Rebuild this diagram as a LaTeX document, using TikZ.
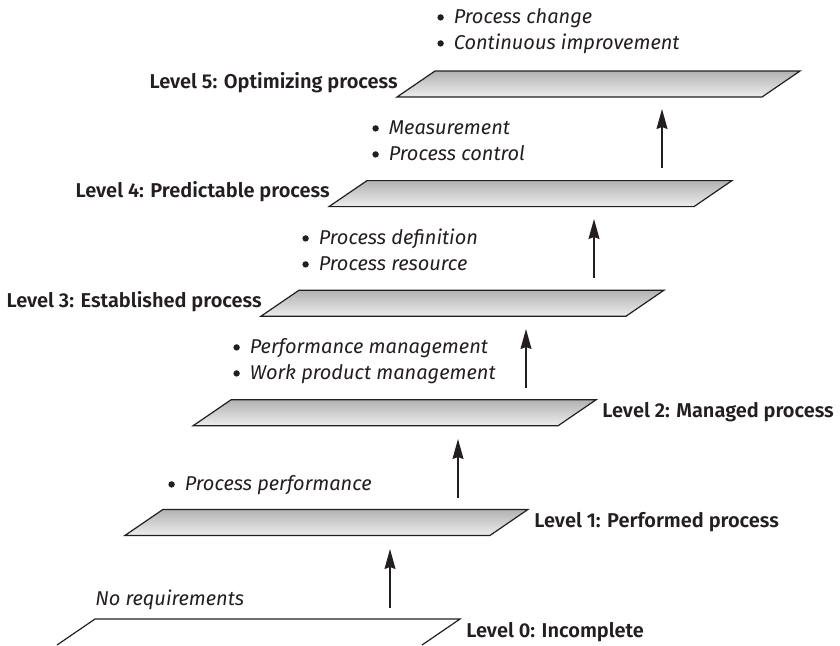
\documentclass[tikz,border=0pt]{standalone}
\usepackage{fontspec}
\setmainfont{Fira Sans}[BoldFont={Fira Sans SemiBold}]
\usepackage{tikz}
\usetikzlibrary{arrows.meta}
\definecolor{plateTop}{HTML}{B2B2B2}
\definecolor{plateBottom}{HTML}{EDEDED}
\definecolor{inkDark}{HTML}{231F20}

\newcommand{\kpadot}{\tikz[baseline=-2.8pt]\fill[inkDark] (0,0) circle (1.6pt);\enspace}

\tikzset{
  plate/.style={draw=inkDark, line width=0.6pt, line join=miter, top color=plateTop, bottom color=plateBottom},
  levelup/.style={draw=inkDark, line width=0.65pt, -{Stealth[length=10pt, width=5.5pt, inset=1pt]}},
  levelname/.style={font=\fontsize{10}{12}\selectfont\bfseries, text=inkDark, inner sep=0pt},
  practice/.style={font=\fontsize{10}{13}\selectfont\itshape, text=inkDark, inner sep=0pt, anchor=base west, align=left}
}

\begin{document}
\begin{tikzpicture}[x=0.5pt, y=-0.5pt]
      \useasboundingbox (0,0) rectangle (840,645);

      % Level 0 (cut off by the page)
      \draw[draw=inkDark, line width=0.6pt] (57,645) -- (95,619) coordinate (tl0) -- (460,619) coordinate (tr0) -- (422,645);

      % Plates, levels 1 to 5
      \foreach \k in {1,...,5} {
            \pgfmathsetmacro{\px}{95+68*\k}
            \pgfmathsetmacro{\py}{619-109.6*\k}
            \draw[plate] (\px,\py) coordinate (tl\k) -- ++(365,0) coordinate (tr\k)
                  -- ++(-38,26) coordinate (br\k) -- ++(-365,0) coordinate (bl\k) -- cycle;
      }

      % Arrows between levels
      \foreach \k in {0,...,4} {
            \pgfmathsetmacro{\ax}{390+68*\k}
            \coordinate (from\k) at (\ax,{608-110*\k});
            \coordinate (to\k) at (\ax,{549-110*\k});
            \draw[levelup] (from\k) -- (to\k);
      }

      % Level names
      \node[levelname, anchor=base west] (lvl0) at ([shift={(6,18)}]tr0) {Level 0: Incomplete};
      \node[levelname, anchor=base west] (lvl1) at ([shift={(6,18)}]tr1) {Level 1: Performed process};
      \node[levelname, anchor=base west] (lvl2) at ([shift={(6,18)}]tr2) {Level 2: Managed process};
      \node[levelname, anchor=base east] (lvl3) at ([shift={(1,-9)}]bl3) {Level 3: Established process};
      \node[levelname, anchor=base east] (lvl4) at ([shift={(1,-9)}]bl4) {Level 4: Predictable process};
      \node[levelname, anchor=base east] (lvl5) at ([shift={(1,-9)}]bl5) {Level 5: Optimizing process};

      % Practices (base = last line)
      \node[practice] (req0) at (95,605) {No requirements};
      \node[practice] (kpa1) at (168,490) {\kpadot Process performance};
      \node[practice] (kpa2) at (233,379) {\kpadot Performance management\\\kpadot Work product management};
      \node[practice] (kpa3) at (302,270) {\kpadot Process definition\\\kpadot Process resource};
      \node[practice] (kpa4) at (372,160) {\kpadot Measurement\\\kpadot Process control};
      \node[practice] (kpa5) at (437,49) {\kpadot Process change\\\kpadot Continuous improvement};
\end{tikzpicture}
\end{document}
